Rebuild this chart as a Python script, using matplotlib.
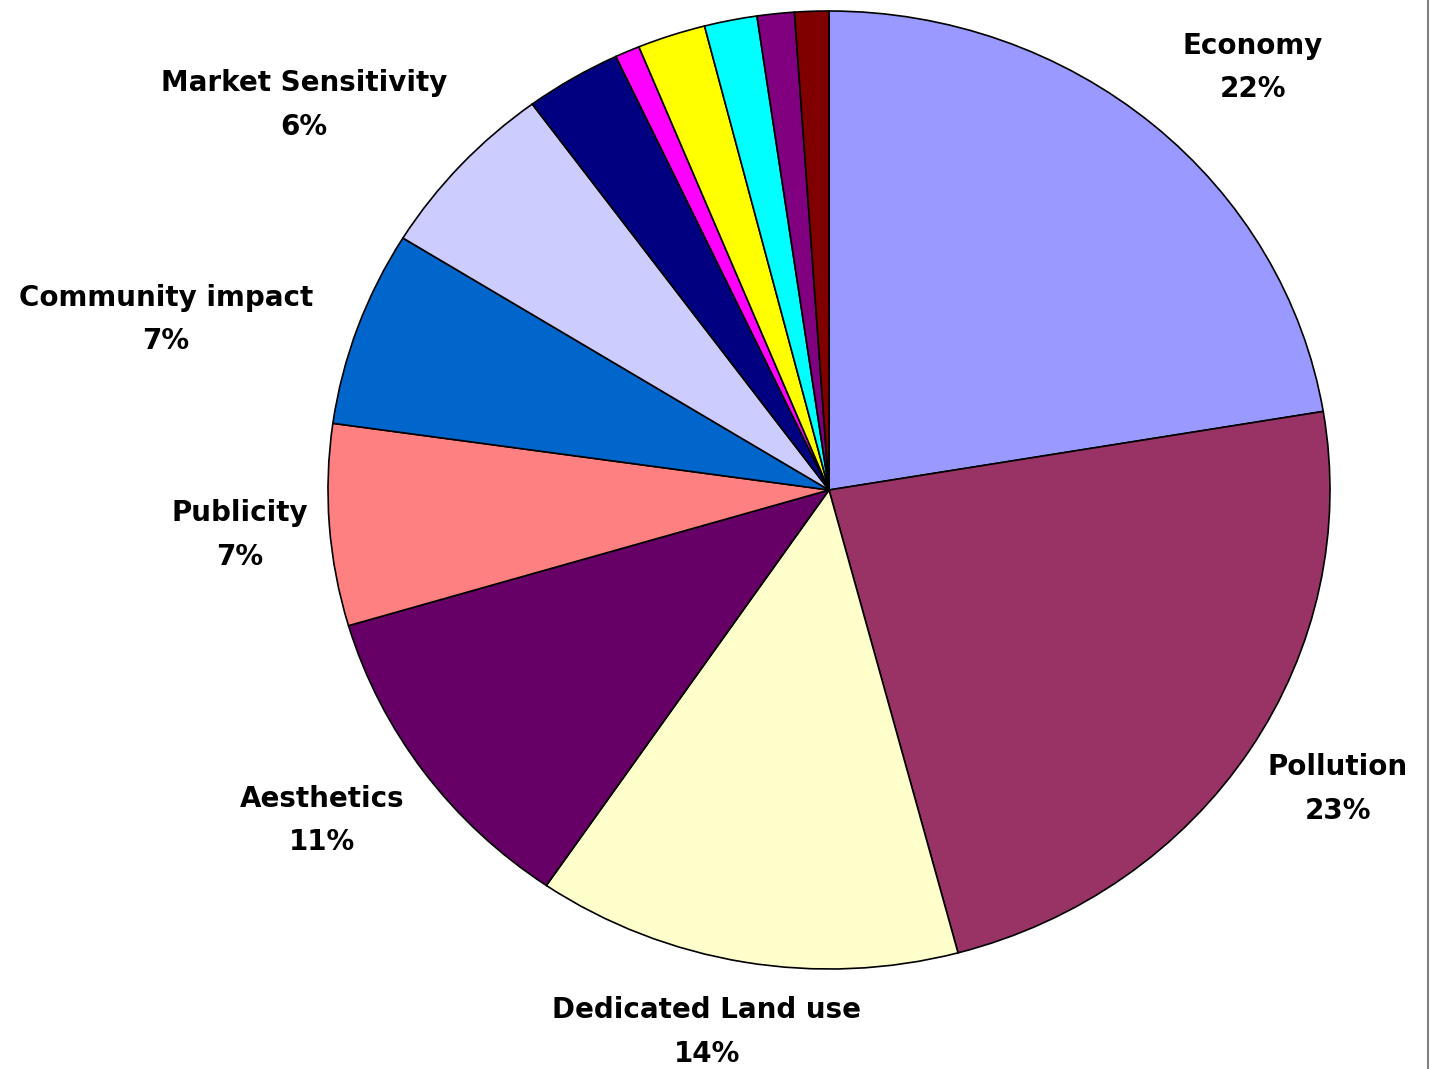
import matplotlib
matplotlib.use("Agg")
import matplotlib.pyplot as plt

# Share of each factor (percent), clockwise from 12 o'clock
categories = ["Economy", "Pollution", "Dedicated Land use", "Aesthetics",
              "Publicity", "Community impact", "Market Sensitivity",
              "", "", "", "", "", ""]
values = [22.4, 23.5, 13.7, 10.9, 6.8, 6.6, 6.1, 3.1, 0.8, 2.2, 1.7, 1.2, 1.1]
colors = ["#9999FF", "#993366", "#FFFFCC", "#660066", "#FF8080", "#0066CC",
          "#CCCCFF", "#000080", "#FF00FF", "#FFFF00", "#00FFFF", "#800080",
          "#800000"]

# Label anchor points in axes-fraction coordinates (only named slices)
label_pos = {
    "Economy": (0.923, 0.941),
    "Pollution": (1.008, 0.1875),
    "Dedicated Land use": (0.378, -0.066),
    "Aesthetics": (-0.006, 0.155),
    "Publicity": (-0.088, 0.453),
    "Community impact": (-0.162, 0.678),
    "Market Sensitivity": (-0.024, 0.902),
}

W, H = 1430, 1069
fig = plt.figure(figsize=(W / 100, H / 100), dpi=100)
cx, cy, rx, ry = 829, 490, 501, 479
ax = fig.add_axes([(cx - rx) / W, (H - cy - ry) / H, 2 * rx / W, 2 * ry / H])

ax.pie(values, colors=colors, startangle=90, counterclock=False,
       wedgeprops=dict(edgecolor="black", linewidth=1.2))
ax.set_aspect("auto")
ax.set_xlim(-1, 1)
ax.set_ylim(-1, 1)
ax.axis("off")

total = sum(values)
for name, v in zip(categories, values):
    if not name:
        continue
    x, y = label_pos[name]
    ax.text(x, y, f"{name}\n{round(v / total * 100):d}%", transform=ax.transAxes,
            ha="center", va="center", fontsize=20, fontweight="bold",
            family="DejaVu Sans", linespacing=1.72, clip_on=False)

# thin grey border on the right edge
fig.add_artist(plt.Line2D([1428 / W, 1428 / W], [0, 1], color="#808080",
                          linewidth=1.5, transform=fig.transFigure))

fig.savefig("out.png", dpi=100, facecolor="white")
